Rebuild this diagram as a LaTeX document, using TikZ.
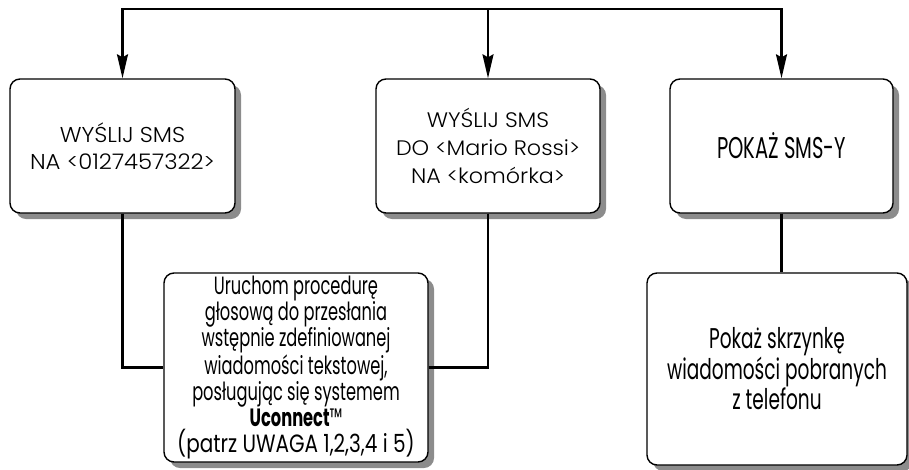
\documentclass[tikz,border=0pt]{standalone}
\usepackage{fontspec}
\setmainfont{Poppins}
\newfontfamily\widefont{Poppins Light}[FakeStretch=1.06]
\newfontfamily\condfont{Poppins}[FakeStretch=0.65]
\newfontfamily\notefont{Poppins}[FakeStretch=0.8]
\usetikzlibrary{arrows.meta,shadows,positioning}

\begin{document}
\begin{tikzpicture}[x=1pt,y=-1pt,
  box/.style={draw,line width=1.4pt,rounded corners=10pt,fill=white,align=center,inner sep=1pt,
    drop shadow={shadow xshift=6pt,shadow yshift=-6pt,fill=black!45,opacity=1}},
  link/.style={line width=2.2pt},
  tip/.tip={Stealth[length=24pt,width=11pt,inset=3pt]}]
\useasboundingbox[clip] (0,0) rectangle (909,469);
% top row
\node[box,minimum width=225pt,minimum height=134pt,font=\widefont\fontsize{21.5}{27}\selectfont] (sms1) at (122.5,146)
  {WYŚLIJ SMS\\NA <0127457322>};
\node[box,minimum width=224pt,minimum height=134pt,font=\widefont\fontsize{21}{28}\selectfont] (sms2) at (488,146)
  {WYŚLIJ SMS\\DO <Mario Rossi>\\NA <komórka>};
\node[box,minimum width=223pt,minimum height=134pt,font=\condfont\fontsize{30}{34}\selectfont] (show) at (781.5,146)
  {POKAŻ SMS-Y};
% bottom row
\node[box,minimum width=264pt,minimum height=189pt,inner ysep=0pt,
  font=\condfont\fontsize{25}{26}\selectfont] (voice) at (296,367.5)
  {Uruchom procedurę\\głosową do przesłania\\wstępnie zdefiniowanej\\wiadomości tekstowej,\\posługując się systemem\\\textbf{Uconnect}\texttrademark\\{\notefont(patrz UWAGA 1,2,3,4 i 5)}};
\node[box,minimum width=260pt,minimum height=192pt,font=\condfont\fontsize{28.5}{25}\selectfont] (inbox) at (777,369)
  {Pokaż skrzynkę\\wiadomości pobranych\\z telefonu};
% connectors
\coordinate (top) at (0,9);
\draw[link,tip-tip] (sms1.north) |- (sms2.north|-top) -| (show.north);
\draw[link,-tip] (sms2.north|-top) -- (sms2.north);
\draw[link] (sms1.south) |- (voice.west);
\draw[link] (sms2.south) |- (voice.east);
\draw[link] (show.south) -- (show.south|-inbox.north);
\end{tikzpicture}
\end{document}
